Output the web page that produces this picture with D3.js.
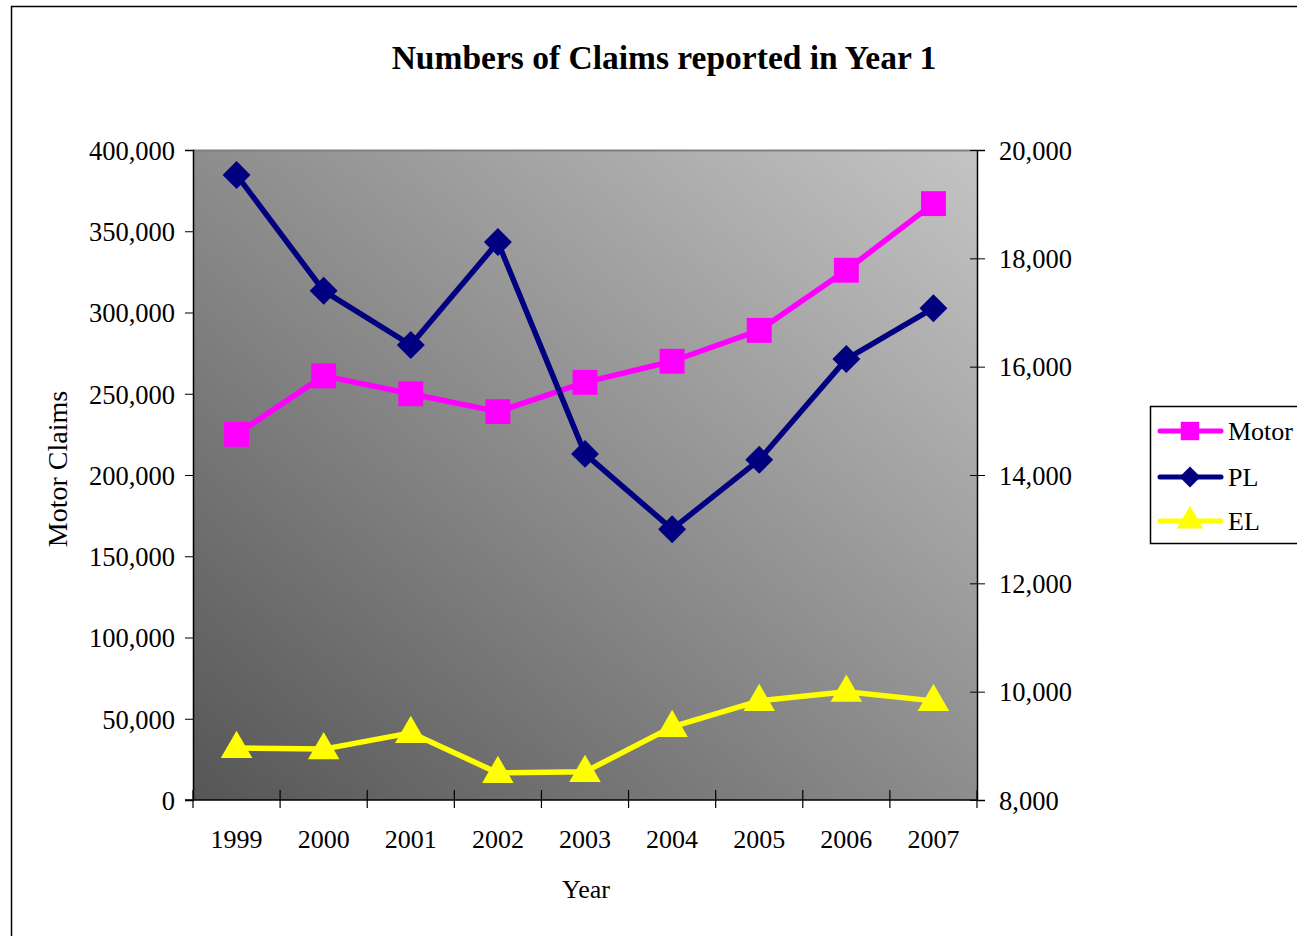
<!DOCTYPE html>
<html><head><meta charset="utf-8">
<script src="https://cdn.jsdelivr.net/npm/d3@7/dist/d3.min.js"></script>
<style>
html,body{margin:0;padding:0;background:#fff;}
svg text{font-family:"Liberation Serif","Times New Roman",serif;fill:#000;}
</style></head><body>
<svg id="chart" width="1297" height="936"></svg>
<script>
const years = ["1999","2000","2001","2002","2003","2004","2005","2006","2007"];
const motor = [225000, 261000, 250000, 239000, 257000, 270000, 289000, 326000, 367000];
const pl = [19540, 17400, 16400, 18300, 14390, 13000, 14280, 16140, 17080];
const el = [8960, 8940, 9240, 8500, 8520, 9350, 9830, 10000, 9830];
const leftTicks = [0,50000,100000,150000,200000,250000,300000,350000,400000];
const rightTicks = [8000,10000,12000,14000,16000,18000,20000];
const seriesNames = ["Motor","PL","EL"];
const seriesColors = ["#ff00ff","#000080","#ffff00"];

const svg = d3.select("#chart");
const L = 193, R = 977, T = 150, B = 800;

// outer border
svg.append("rect").attr("x",11.5).attr("y",6.5).attr("width",1400).attr("height",1000)
  .attr("fill","#fff").attr("stroke","#000").attr("stroke-width",1.5);

const defs = svg.append("defs");
const grad = defs.append("linearGradient").attr("id","bg")
  .attr("x1","0").attr("y1","1").attr("x2","1").attr("y2","0");
grad.append("stop").attr("offset","0%").attr("stop-color","#565656");
grad.append("stop").attr("offset","100%").attr("stop-color","#c4c4c4");

const x = d3.scaleBand().domain(years).range([L,R]);
const yL = d3.scaleLinear().domain([0,400000]).range([B,T]);
const yR = d3.scaleLinear().domain([8000,20000]).range([B,T]);

svg.append("rect").attr("x",L).attr("y",T).attr("width",R-L).attr("height",B-T).attr("fill","url(#bg)");
svg.append("line").attr("x1",L).attr("x2",R).attr("y1",T+0.5).attr("y2",T+0.5).attr("stroke","#808080").attr("stroke-width",2);

const fmt = d3.format(",");
// left axis
const gl = svg.append("g").attr("transform",`translate(${L},0)`)
  .call(d3.axisLeft(yL).tickValues(leftTicks).tickFormat(fmt).tickSize(8).tickPadding(10));
gl.select(".domain").attr("stroke","#000").attr("stroke-width",1.5);
gl.selectAll(".tick line").attr("stroke","#000").attr("x2",-8).attr("x1",0);
gl.selectAll("text").style("font-size","26.5px").attr("dy","0.35em");

// right axis
const gr = svg.append("g").attr("transform",`translate(${R},0)`)
  .call(d3.axisRight(yR).tickValues(rightTicks).tickFormat(fmt).tickSize(8).tickPadding(14));
gr.select(".domain").attr("stroke","#000").attr("stroke-width",1.5);
gr.selectAll(".tick line").attr("stroke","#000").attr("x1",-7).attr("x2",8);
gr.selectAll("text").style("font-size","26.5px").attr("dy","0.35em");

// bottom axis
const gb = svg.append("g").attr("transform",`translate(0,${B})`)
  .call(d3.axisBottom(x).tickSize(0).tickPadding(30));
gb.select(".domain").remove();
svg.append("line").attr("x1",L-8).attr("x2",R).attr("y1",B).attr("y2",B).attr("stroke","#000").attr("stroke-width",1.5);
gb.selectAll("text").style("font-size","26px").attr("dy","0.71em");
const bounds = years.map(d=>x(d)).concat([R]);
svg.append("g").selectAll("line").data(bounds).join("line")
  .attr("x1",d=>d).attr("x2",d=>d).attr("y1",B-10).attr("y2",B+8)
  .attr("stroke","#000").attr("stroke-width",1.2);

// lines
const cx = d => x(d) + x.bandwidth()/2;
const data = [motor.map((v,i)=>[cx(years[i]), yL(v)]),
              pl.map((v,i)=>[cx(years[i]), yR(v)]),
              el.map((v,i)=>[cx(years[i]), yR(v)])];
const line = d3.line();
data.forEach((pts,k)=>{
  svg.append("path").attr("d",line(pts)).attr("fill","none")
    .attr("stroke",seriesColors[k]).attr("stroke-width",5.5).attr("stroke-linejoin","round");
});
const symSquare = d3.symbol().type(d3.symbolSquare).size(620);
const symDiamond = d3.symbol().type(d3.symbolSquare).size(390);
const symTri = d3.symbol().type(d3.symbolTriangle).size(430);
function marker(g, k, px, py){
  if(k===0) g.append("path").attr("d",symSquare()).attr("transform",`translate(${px},${py})`).attr("fill",seriesColors[0]);
  else if(k===1) g.append("path").attr("d",symDiamond()).attr("transform",`translate(${px},${py}) rotate(45)`).attr("fill",seriesColors[1]);
  else g.append("path").attr("d",symTri()).attr("transform",`translate(${px},${py+1})`).attr("fill",seriesColors[2]);
}
data.forEach((pts,k)=>{
  const g = svg.append("g");
  pts.forEach(p=>marker(g,k,p[0],p[1]));
});

// title
svg.append("text").attr("x",664).attr("y",69).attr("text-anchor","middle")
  .style("font-size","33.5px").style("font-weight","bold")
  .text("Numbers of Claims reported in Year 1");

// axis titles
svg.append("text").attr("transform","translate(67,469) rotate(-90)").attr("text-anchor","middle")
  .style("font-size","28px").text("Motor Claims");
defs.append("clipPath").attr("id","rclip").append("rect").attr("x",1060).attr("y",388).attr("width",80).attr("height",200);
svg.append("text").attr("clip-path","url(#rclip)").attr("transform","translate(1108,553) rotate(-90)").attr("text-anchor","start")
  .style("font-size","28px").text("EL / PL claims");
svg.append("text").attr("x",586).attr("y",898).attr("text-anchor","middle").style("font-size","26px").text("Year");

// legend
const lg = svg.append("g");
lg.append("rect").attr("x",1150.5).attr("y",406.5).attr("width",200).attr("height",137)
  .attr("fill","#fff").attr("stroke","#000").attr("stroke-width",1.5);
const ly = [431,477,521];
seriesNames.forEach((n,k)=>{
  lg.append("line").attr("x1",1160).attr("x2",1221).attr("y1",ly[k]).attr("y2",ly[k])
    .attr("stroke",seriesColors[k]).attr("stroke-width",5).attr("stroke-linecap","round");
  if(k===0) lg.append("path").attr("d",d3.symbol().type(d3.symbolSquare).size(340)()).attr("transform",`translate(1190,${ly[k]})`).attr("fill",seriesColors[0]);
  else if(k===1) lg.append("path").attr("d",d3.symbol().type(d3.symbolSquare).size(220)()).attr("transform",`translate(1190,${ly[k]}) rotate(45)`).attr("fill",seriesColors[1]);
  else lg.append("path").attr("d",d3.symbol().type(d3.symbolTriangle).size(300)()).attr("transform",`translate(1190,${ly[k]})`).attr("fill",seriesColors[2]);
  lg.append("text").attr("x",1228).attr("y",ly[k]).attr("dy","0.35em").style("font-size","26px").text(n);
});
</script>
</body></html>
